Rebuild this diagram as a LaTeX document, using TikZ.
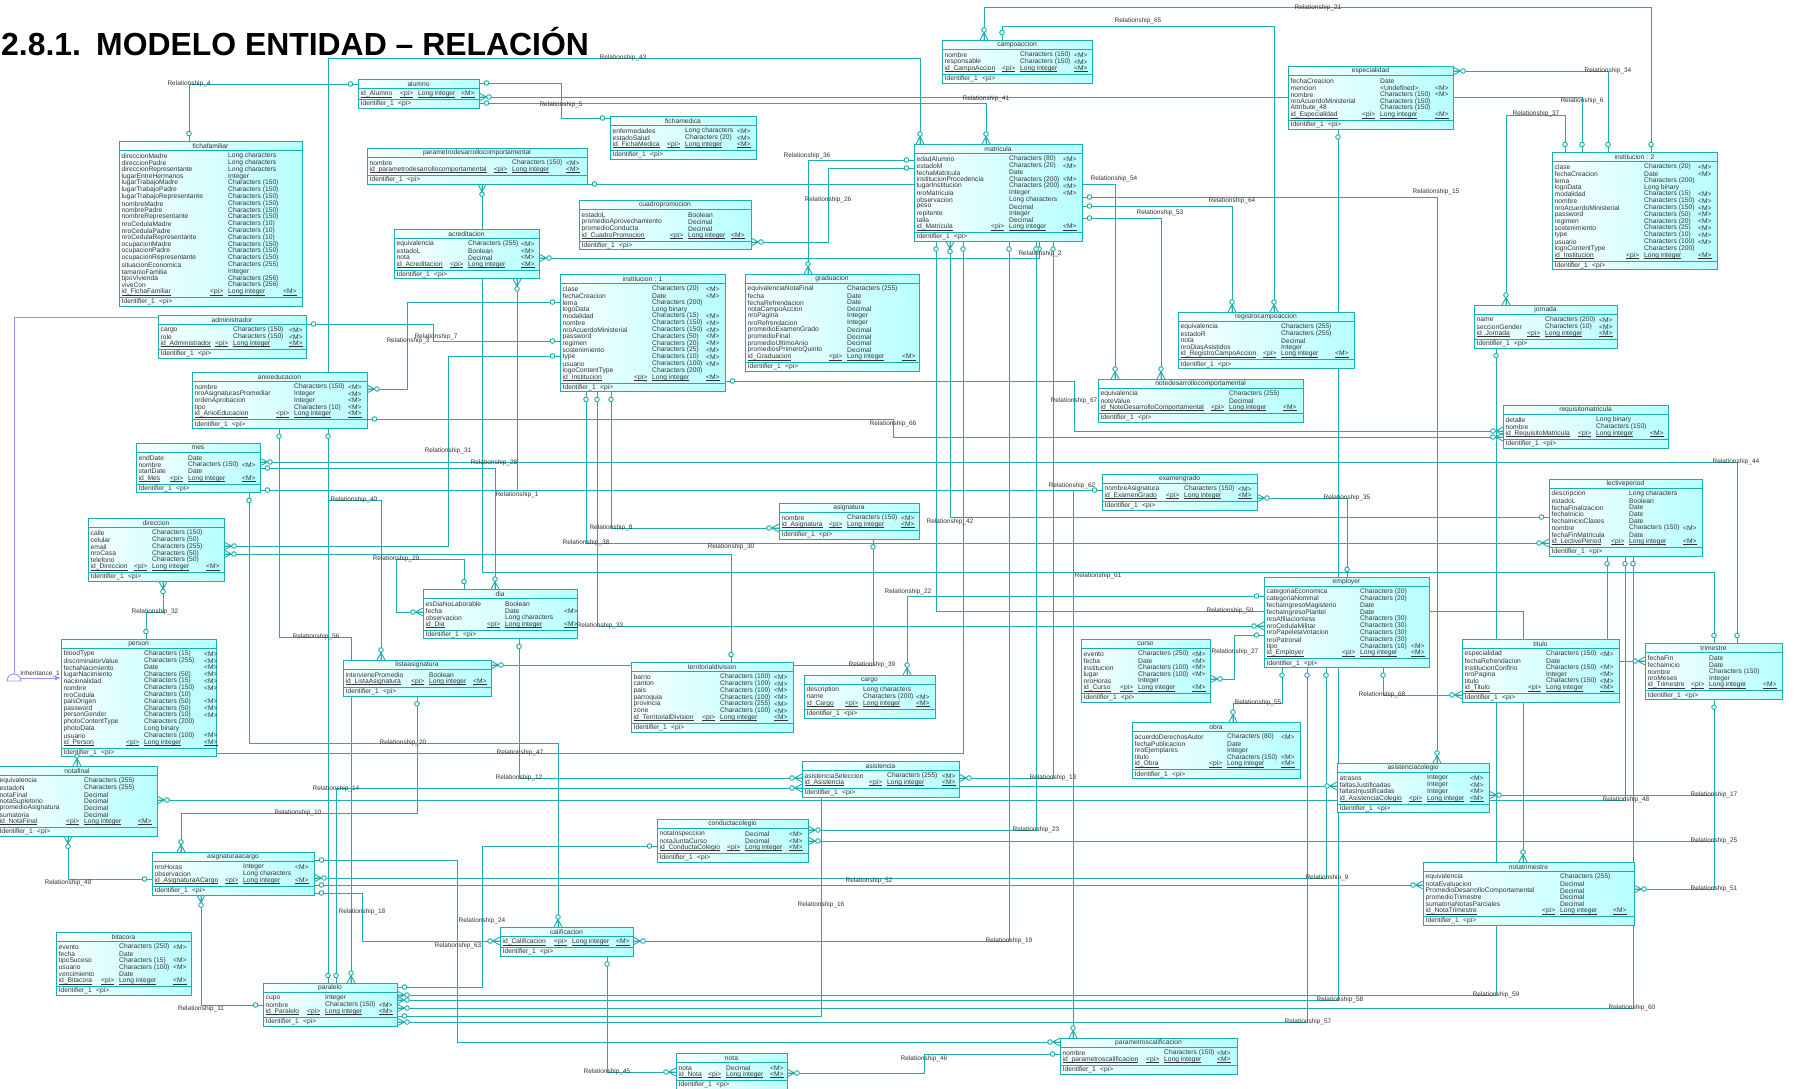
\documentclass[tikz,border=0pt]{standalone}
\usepackage{fontspec}
\setmainfont{Liberation Sans}
\usetikzlibrary{arrows.meta}
\pgfdeclarelayer{bg}
\pgfsetlayers{bg,main}
\definecolor{tl}{RGB}{26,174,174}
\definecolor{tx}{RGB}{50,50,50}
\definecolor{inhc}{RGB}{150,150,255}
\newcounter{rc}
\newcommand\ul[1]{\setbox0\hbox{#1}\rlap{\vrule height -0.9pt depth 1.35pt width \wd0}\box0}
% #1 name #2 x #3 y #4 width #5 title #6 type-col #7 M-col #8 number of rows
\newcommand\ebeg[8]{\gdef\eN{#1}\gdef\eX{#2}\gdef\eY{#3}\gdef\eW{#4}\gdef\eTx{#6}\gdef\eMx{#7}\setcounter{rc}{0}%
\pgfmathsetmacro\eB{#3+15+(#8-1)*6.8+5.5}%
\pgfmathsetmacro\eH{\eB+9-#3}%
\node[ebox,minimum width=#4 pt,minimum height=\eH pt] (#1) at (#2,#3) {};
\draw[sep] (#2,#3+9.5) -- (#2+#4,#3+9.5);
\draw[sep] (#2,\eB) -- (#2+#4,\eB);
\node[hdr] (#1-t) at (#2+#4/2,#3+4.9) {#5};
\node[txt] (#1-i) at (#2+2.5,\eB+4.6) {Identifier\_1};
\node[txt] (#1-ip) at (#2+40,\eB+4.6) {<pi>};}
\newcommand\erow[3]{\stepcounter{rc}\pgfmathsetmacro\ry{\eY+15+(\therc-1)*6.8}%
\node[txt] (\eN-\therc a) at (\eX+2.5,\ry) {#1};
\node[txt] (\eN-\therc b) at (\eX+\eTx,\ry) {#2};
\node[txt] (\eN-\therc c) at (\eX+\eMx,\ry) {#3};}
\newcommand\ekey[1]{\stepcounter{rc}\pgfmathsetmacro\ry{\eY+15+(\therc-1)*6.8}%
\node[txt] (\eN-k) at (\eX+2.5,\ry) {\ul{#1}};
\node[txt] (\eN-kp) at (\eX+\eTx-18,\ry) {\ul{<pi>}};
\node[txt] (\eN-kt) at (\eX+\eTx,\ry) {\ul{Long integer}};
\node[txt] (\eN-km) at (\eX+\eMx,\ry) {\ul{<M>}};}
\newcommand\instrows{%
\erow{clase}{Characters (20)}{<M>}%
\erow{fechaCreacion}{Date}{<M>}%
\erow{lema}{Characters (200)}{}%
\erow{logoData}{Long binary}{}%
\erow{modalidad}{Characters (15)}{<M>}%
\erow{nombre}{Characters (150)}{<M>}%
\erow{nroAcuerdoMinisterial}{Characters (150)}{<M>}%
\erow{password}{Characters (50)}{<M>}%
\erow{regimen}{Characters (20)}{<M>}%
\erow{sostenimiento}{Characters (25)}{<M>}%
\erow{type}{Characters (10)}{<M>}%
\erow{usuario}{Characters (100)}{<M>}%
\erow{logoContentType}{Characters (200)}{}%
\ekey{id\_Institucion}}
\newcommand\crN[1]{\pic[rotate=90] at (#1) {many};}
\newcommand\crS[1]{\pic[rotate=-90] at (#1) {many};}
\newcommand\crE[1]{\pic at (#1) {many};}
\newcommand\crW[1]{\pic[rotate=180] at (#1) {many};}
\newcommand\ciN[1]{\pic[rotate=90] at (#1) {one};}
\newcommand\ciS[1]{\pic[rotate=-90] at (#1) {one};}
\newcommand\ciE[1]{\pic at (#1) {one};}
\newcommand\ciW[1]{\pic[rotate=180] at (#1) {one};}
\tikzset{
  conn/.style={draw=tl,line width=0.9pt},
  ebox/.style={draw=tl,line width=1pt,left color=cyan!3,right color=cyan!28,inner sep=0pt,outer sep=0pt,anchor=north west},
  sep/.style={draw=tl,line width=0.8pt},
  txt/.style={font=\fontsize{6.7}{7}\selectfont,text=tx,inner sep=0pt,anchor=west},
  hdr/.style={font=\fontsize{6.7}{7}\selectfont,text=tx,inner sep=0pt},
  lbl/.style={font=\fontsize{6.5}{7}\selectfont,text=tx,inner sep=0pt},
  many/.pic={\draw[conn] (0,-4) -- (7.5,0) -- (0,4) (0,0) -- (7.5,0); \draw[conn,fill=white] (10,0) circle (2.3);},
  one/.pic={\draw[conn,fill=white] (7.5,0) circle (2.3);}
}
\begin{document}
\begin{tikzpicture}[x=1pt,y=-1pt]
\useasboundingbox (0,0) rectangle (1795,1088);
% ---------- title
\node[font=\fontsize{31.9}{36}\selectfont\bfseries,anchor=base west,inner sep=0pt] (ttl1) at (1,55) {2.8.1.};
\node[font=\fontsize{31.9}{36}\selectfont\bfseries,anchor=base west,inner sep=0pt] (ttl2) at (96,55) {MODELO ENTIDAD – RELACIÓN};
% ---------- entities
\ebeg{alumno}{358}{79}{121}{alumno}{60}{103}{1}
\ekey{id\_Alumno}

\ebeg{ficha}{119}{141}{183}{fichafamiliar}{109}{164}{21}
\erow{direccionMadre}{Long characters}{}
\erow{direccionPadre}{Long characters}{}
\erow{direccionRepresentante}{Long characters}{}
\erow{lugarEntreHermanos}{Integer}{}
\erow{lugarTrabajoMadre}{Characters (150)}{}
\erow{lugarTrabajoPadre}{Characters (150)}{}
\erow{lugarTrabajoRepresentante}{Characters (150)}{}
\erow{nombreMadre}{Characters (150)}{}
\erow{nombrePadre}{Characters (150)}{}
\erow{nombreRepresentante}{Characters (150)}{}
\erow{nroCedulaMadre}{Characters (10)}{}
\erow{nroCedulaPadre}{Characters (10)}{}
\erow{nroCedulaRepresentante}{Characters (10)}{}
\erow{ocupacionMadre}{Characters (150)}{}
\erow{ocupacionPadre}{Characters (150)}{}
\erow{ocupacionRepresentante}{Characters (150)}{}
\erow{situacionEconomica}{Characters (255)}{}
\erow{tamanioFamilia}{Integer}{}
\erow{tipoVivienda}{Characters (256)}{}
\erow{viveCon}{Characters (256)}{}
\ekey{id\_FichaFamiliar}

\ebeg{admin}{158}{315}{148}{administrador}{75}{131}{3}
\erow{cargo}{Characters (150)}{<M>}
\erow{role}{Characters (150)}{<M>}
\ekey{id\_Administrador}

\ebeg{parametro}{367}{148}{220}{parametrodesarrollocomportamental}{145}{199}{2}
\erow{nombre}{Characters (150)}{<M>}
\ekey{id\_parametrodesarrollocomportamental}

\ebeg{fichamedica}{610}{116}{146}{fichamedica}{75}{127}{3}
\erow{enfermedades}{Long characters}{<M>}
\erow{estadoSalud}{Characters (20)}{<M>}
\ekey{id\_FichaMedica}

\ebeg{acreditacion}{394}{229}{145}{acreditacion}{74}{127}{4}
\erow{equivalencia}{Characters (255)}{<M>}
\erow{estadoL}{Boolean}{<M>}
\erow{nota}{Decimal}{<M>}
\ekey{id\_Acreditacion}

\ebeg{cuadro}{579}{200}{172}{cuadropromocion}{109}{152}{4}
\erow{estadoL}{Boolean}{}
\erow{promedioAprovechamiento}{Decimal}{}
\erow{promedioConducta}{Decimal}{}
\ekey{id\_CuadroPromocion}

\ebeg{inst1}{560}{274}{165}{institucion : 1}{92}{146}{14}
\instrows

\ebeg{graduacion}{745}{274}{174}{graduacion}{102}{157}{11}
\erow{equivalenciaNotaFinal}{Characters (255)}{}
\erow{fecha}{Date}{}
\erow{fechaRefrendacion}{Date}{}
\erow{notaCampoAccion}{Decimal}{}
\erow{nroPagina}{Integer}{}
\erow{nroRefrendacion}{Integer}{}
\erow{promedioExamenGrado}{Decimal}{}
\erow{promedioFinal}{Decimal}{}
\erow{promedioUltimoAnio}{Decimal}{}
\erow{promediosPrimeroQuinto}{Decimal}{}
\ekey{id\_Graduacion}

\ebeg{campo}{942}{40}{150}{campoaccion}{78}{132}{3}
\erow{nombre}{Characters (150)}{<M>}
\erow{responsable}{Characters (150)}{<M>}
\ekey{id\_CampoAccion}

\ebeg{matricula}{914}{144}{168}{matricula}{95}{149}{11}
\erow{edadAlumno}{Characters (80)}{<M>}
\erow{estadoM}{Characters (20)}{<M>}
\erow{fechaMatricula}{Date}{}
\erow{institucionProcedencia}{Characters (200)}{<M>}
\erow{lugarInstitucion}{Characters (200)}{<M>}
\erow{nroMatricula}{Integer}{<M>}
\erow{observacion}{Long characters}{}
\erow{peso}{Decimal}{}
\erow{repitente}{Integer}{}
\erow{talla}{Decimal}{}
\ekey{id\_Matricula}

\ebeg{especialidad}{1288}{66}{165}{especialidad}{92}{147}{6}
\erow{fechaCreacion}{Date}{}
\erow{mencion}{<Undefined>}{<M>}
\erow{nombre}{Characters (150)}{<M>}
\erow{nroAcuerdoMinisterial}{Characters (150)}{}
\erow{Attribute\_48}{Characters (150)}{}
\ekey{id\_Especialidad}

\ebeg{inst2}{1552}{152}{165}{institucion : 2}{92}{146}{14}
\instrows

\ebeg{registro}{1178}{312}{176}{registrocampoaccion}{103}{157}{5}
\erow{equivalencia}{Characters (255)}{}
\erow{estadoR}{Characters (255)}{}
\erow{nota}{Decimal}{}
\erow{nroDiasAsistidos}{Integer}{}
\ekey{id\_RegistroCampoAccion}

\ebeg{jornada}{1474}{305}{143}{jornada}{71}{125}{3}
\erow{name}{Characters (200)}{<M>}
\erow{seccionGender}{Characters (10)}{<M>}
\ekey{id\_Jornada}

\ebeg{notedes}{1098}{379}{205}{notedesarrollocomportamental}{131}{185}{3}
\erow{equivalencia}{Characters (255)}{}
\erow{noteValue}{Decimal}{}
\ekey{id\_NoteDesarrolloComportamental}

\ebeg{requisito}{1503}{405}{165}{requisitomatricula}{93}{147}{3}
\erow{detalle}{Long binary}{}
\erow{nombre}{Characters (150)}{}
\ekey{id\_RequisitoMatricula}

\ebeg{lective}{1549}{479}{153}{lectiveperiod}{80}{134}{8}
\erow{descripcion}{Long characters}{}
\erow{estadoL}{Boolean}{}
\erow{fechaFinalizacion}{Date}{}
\erow{fechaInicio}{Date}{}
\erow{fechaInicioClases}{Date}{}
\erow{nombre}{Characters (150)}{<M>}
\erow{fechaFinMatricula}{Date}{}
\ekey{id\_LectivePeriod}

\ebeg{examengrado}{1102}{474}{155}{examengrado}{82}{136}{2}
\erow{nombreAsignatura}{Characters (150)}{<M>}
\ekey{id\_ExamenGrado}

\ebeg{anio}{192}{372}{175}{anioeducacion}{102}{156}{5}
\erow{nombre}{Characters (150)}{<M>}
\erow{nroAsignaturasPromediar}{Integer}{<M>}
\erow{ordenAprobacion}{Integer}{<M>}
\erow{tipo}{Characters (10)}{<M>}
\ekey{id\_AnioEducacion}

\ebeg{mes}{136}{443}{124}{mes}{52}{106}{4}
\erow{endDate}{Date}{}
\erow{nombre}{Characters (150)}{<M>}
\erow{startDate}{Date}{}
\ekey{id\_Mes}

\ebeg{direccion}{88}{518}{136}{direccion}{64}{118}{6}
\erow{calle}{Characters (150)}{}
\erow{celular}{Characters (50)}{}
\erow{email}{Characters (255)}{}
\erow{nroCasa}{Characters (50)}{}
\erow{telefono}{Characters (50)}{}
\ekey{id\_Direccion}

\ebeg{person}{61}{639}{155}{person}{83}{143}{14}
\erow{bloodType}{Characters (15)}{<M>}
\erow{discriminatorValue}{Characters (255)}{<M>}
\erow{fechaNacimiento}{Date}{<M>}
\erow{lugarNacimiento}{Characters (50)}{<M>}
\erow{nacionalidad}{Characters (15)}{<M>}
\erow{nombre}{Characters (150)}{<M>}
\erow{nroCedula}{Characters (10)}{}
\erow{paisOrigen}{Characters (50)}{<M>}
\erow{password}{Characters (50)}{<M>}
\erow{personGender}{Characters (10)}{<M>}
\erow{photoContentType}{Characters (200)}{}
\erow{photoData}{Long binary}{}
\erow{usuario}{Characters (100)}{<M>}
\ekey{id\_Person}

\ebeg{dia}{423}{589}{154}{dia}{82}{141}{4}
\erow{esDiaNoLaborable}{Boolean}{}
\erow{fecha}{Date}{<M>}
\erow{observacion}{Long characters}{}
\ekey{id\_Dia}

\ebeg{lista}{343}{660}{148}{listaasignatura}{86}{130}{2}
\erow{intervienePromedio}{Boolean}{}
\ekey{id\_ListaAsignatura}

\ebeg{asignatura}{779}{503}{140}{asignatura}{68}{122}{2}
\erow{nombre}{Characters (150)}{<M>}
\ekey{id\_Asignatura}

\ebeg{territorial}{631}{662}{162}{territorialdivision}{89}{143}{7}
\erow{barrio}{Characters (100)}{<M>}
\erow{canton}{Characters (100)}{<M>}
\erow{pais}{Characters (100)}{<M>}
\erow{parroquia}{Characters (100)}{<M>}
\erow{provincia}{Characters (255)}{<M>}
\erow{zone}{Characters (100)}{<M>}
\ekey{id\_TerritorialDivision}

\ebeg{cargo}{804}{675}{131}{cargo}{59}{112}{3}
\erow{description}{Long characters}{}
\erow{name}{Characters (200)}{<M>}
\ekey{id\_Cargo}

\ebeg{employer}{1264}{577}{165}{employer}{96}{147}{10}
\erow{categoriaEconomica}{Characters (20)}{}
\erow{categoriaNominal}{Characters (20)}{}
\erow{fechaIngresoMagisterio}{Date}{}
\erow{fechaIngresoPlantel}{Date}{}
\erow{nroAfiliacionIess}{Characters (30)}{}
\erow{nroCedulaMilitar}{Characters (30)}{}
\erow{nroPapeletaVotacion}{Characters (30)}{}
\erow{nroPatronal}{Characters (30)}{}
\erow{tipo}{Characters (10)}{<M>}
\ekey{id\_Employer}

\ebeg{curso}{1081}{639}{129}{curso}{57}{111}{6}
\erow{evento}{Characters (250)}{<M>}
\erow{fecha}{Date}{<M>}
\erow{institucion}{Characters (100)}{<M>}
\erow{lugar}{Characters (100)}{<M>}
\erow{nroHoras}{Integer}{}
\ekey{id\_Curso}

\ebeg{titulo}{1462}{639}{157}{titulo}{84}{138}{6}
\erow{especialidad}{Characters (150)}{<M>}
\erow{fechaRefrendacion}{Date}{}
\erow{institucionConfirio}{Characters (150)}{<M>}
\erow{nroPagina}{Integer}{<M>}
\erow{titulo}{Characters (150)}{<M>}
\ekey{id\_Titulo}

\ebeg{trimestre}{1645}{643}{137}{trimestre}{64}{118}{5}
\erow{fechaFin}{Date}{}
\erow{fechaInicio}{Date}{}
\erow{nombre}{Characters (150)}{}
\erow{nroMeses}{Integer}{}
\ekey{id\_Trimestre}

\ebeg{obra}{1132}{722}{168}{obra}{95}{149}{5}
\erow{acuerdoDerechosAutor}{Characters (80)}{<M>}
\erow{fechaPublicacion}{Date}{}
\erow{nroEjemplares}{Integer}{}
\erow{titulo}{Characters (150)}{<M>}
\ekey{id\_Obra}

\ebeg{asistencia}{802}{761}{157}{asistencia}{85}{140}{2}
\erow{asistenciaSeleccion}{Characters (255)}{<M>}
\ekey{id\_Asistencia}

\ebeg{asiscol}{1337}{763}{152}{asistenciacolegio}{90}{133}{4}
\erow{atrasos}{Integer}{<M>}
\erow{faltasJustificadas}{Integer}{<M>}
\erow{faltasInjustificadas}{Integer}{<M>}
\ekey{id\_AsistenciaColegio}

\ebeg{conducta}{657}{819}{151}{conductacolegio}{88}{132}{3}
\erow{notaInspeccion}{Decimal}{<M>}
\erow{notaJuntaCurso}{Decimal}{<M>}
\ekey{id\_ConductaColegio}

\ebeg{notafinal}{-3}{766}{160}{notafinal}{87}{141}{7}
\erow{equivalencia}{Characters (255)}{}
\erow{estadoN}{Characters (255)}{}
\erow{notaFinal}{Decimal}{}
\erow{notaSupletorio}{Decimal}{}
\erow{promedioAsignatura}{Decimal}{}
\erow{sumatoria}{Decimal}{}
\ekey{id\_NotaFinal}

\ebeg{asigacargo}{152}{852}{162}{asignaturaacargo}{91}{143}{3}
\erow{nroHoras}{Integer}{<M>}
\erow{observacion}{Long characters}{}
\ekey{id\_AsignaturaACargo}

\ebeg{bitacora}{56}{932}{135}{bitacora}{63}{117}{6}
\erow{evento}{Characters (250)}{<M>}
\erow{fecha}{Date}{}
\erow{tipoSuceso}{Characters (15)}{<M>}
\erow{usuario}{Characters (100)}{<M>}
\erow{vencimiento}{Date}{}
\ekey{id\_Bitacora}

\ebeg{paralelo}{263}{983}{134}{paralelo}{62}{116}{3}
\erow{cupo}{Integer}{}
\erow{nombre}{Characters (150)}{<M>}
\ekey{id\_Paralelo}

\ebeg{calif}{500}{927}{133}{calificacion}{72}{116}{1}
\ekey{id\_Calificacion}

\ebeg{nota}{676}{1053}{111}{nota}{50}{94}{2}
\erow{nota}{Decimal}{<M>}
\ekey{id\_Nota}

\ebeg{paramcal}{1060}{1038}{177}{parametroscalificacion}{104}{157}{2}
\erow{nombre}{Characters (150)}{<M>}
\ekey{id\_parametroscalificacion}

\ebeg{notatrim}{1423}{862}{211}{notatrimestre}{137}{190}{6}
\erow{equivalencia}{Characters (255)}{}
\erow{notaEvaluacion}{Decimal}{}
\erow{PromedioDesarrolloComportamental}{Decimal}{}
\erow{promedioTrimestre}{Decimal}{}
\erow{sumatoriaNotasParciales}{Decimal}{}
\ekey{id\_NotaTrimestre}

% ---------- connectors (behind the boxes)
\begin{pgfonlayer}{bg}
\fill[white] (0,0) rectangle (1795,1088);
\draw[conn] (189,0 |- ficha.north) -- (189,84) -- (alumno.west |- 0,84);
\draw[conn] (328,0 |- paralelo.north) -- (328,58) -- (920,58) -- (920,0 |- matricula.north);
\draw[conn] (alumno.east |- 0,83) -- (561,83) -- (561,118) -- (fichamedica.west |- 0,118);
\draw[conn] (alumno.east |- 0,97) -- (1582,97) -- (1582,0 |- inst2.north);
\draw[conn] (alumno.east |- 0,103) -- (986,103) -- (986,0 |- matricula.north);
\draw[conn] (984,0 |- campo.north) -- (984,7) -- (1651,7) -- (1651,0 |- inst2.north);
\draw[conn] (1002,0 |- campo.north) -- (1002,26) -- (1274,26) -- (1274,0 |- registro.north);
\draw[conn] (especialidad.east |- 0,71) -- (1608,71) -- (1608,0 |- inst2.north);
\draw[conn] (1506,0 |- jornada.north) -- (1506,115) -- (1565,115) -- (1565,0 |- inst2.north);
\draw[conn] (matricula.west |- 0,160) -- (808,160) -- (808,0 |- graduacion.north);
\draw[conn] (matricula.west |- 0,168) -- (828,168) -- (828,242) -- (cuadro.east |- 0,242);
\draw[conn] (parametro.east |- 0,184) -- (1115,184) -- (1115,0 |- notedes.north);
\draw[conn] (matricula.east |- 0,197) -- (1437,197) -- (1437,0 |- asiscol.north);
\draw[conn] (matricula.east |- 0,206) -- (1232,206) -- (1232,0 |- registro.north);
\draw[conn] (matricula.east |- 0,218) -- (1161,218) -- (1161,0 |- notedes.north);
\draw[conn] (acreditacion.east |- 0,258) -- (1039,258) -- (1039,0 |- matricula.south);
\draw[conn] (anio.east |- 0,389) -- (407,389) -- (407,302) -- (inst1.west |- 0,302);
\draw[conn] (admin.east |- 0,324) -- (433,324) -- (433,341) -- (inst1.west |- 0,341);
\draw[conn] (direccion.east |- 0,546) -- (448,546) -- (448,356) -- (inst1.west |- 0,356);
\draw[conn] (direccion.east |- 0,554) -- (731,554) -- (731,0 |- territorial.north);
\draw[conn] (163,0 |- direccion.south) -- (163,612) -- (146,612) -- (146,0 |- person.north);
\draw[conn] (inst1.east |- 0,381) -- (1074,381) -- (1074,431) -- (requisito.west |- 0,431);
\draw[conn] (anio.east |- 0,419) -- (893,419) -- (893,437) -- (requisito.west |- 0,437);
\draw[conn] (mes.east |- 0,462) -- (1737,462) -- (1737,0 |- trimestre.north);
\draw[conn] (mes.east |- 0,468) -- (495,468) -- (495,0 |- dia.north);
\draw[conn] (mes.east |- 0,490) -- (1073,490);
\draw[conn] (517,0 |- acreditacion.south) -- (517,490);
\draw[conn] (examengrado.west |- 0,490) -- (1073,490) -- (1073,0 |- paramcal.north);
\draw[conn] (611,0 |- inst1.south) -- (611,528) -- (asignatura.west |- 0,528);
\draw[conn] (586,0 |- inst1.south) -- (586,543) -- (lective.west |- 0,543);
\draw[conn] (597,0 |- inst1.south) -- (597,626) -- (employer.west |- 0,626);
\draw[conn] (482,0 |- parametro.south) -- (482,572) -- (1714,572) -- (1714,0 |- trimestre.north);
\draw[conn] (examengrado.east |- 0,498) -- (1347,498) -- (1347,0 |- employer.north);
\draw[conn] (950,0 |- matricula.south) -- (950,517) -- (lective.west |- 0,517);
\draw[conn] (936,0 |- matricula.south) -- (936,611) -- (employer.west |- 0,611);
\draw[conn] (963,0 |- matricula.south) -- (963,753) -- (person.east |- 0,753);
\draw[conn] (1009,0 |- matricula.south) -- (1009,941) -- (calif.east |- 0,941);
\draw[conn] (1036,0 |- matricula.south) -- (1036,830) -- (conducta.east |- 0,830);
\draw[conn] (1053,0 |- matricula.south) -- (1053,778) -- (asistencia.east |- 0,778);
\draw[conn] (employer.west |- 0,596) -- (907,596) -- (907,0 |- cargo.north);
\draw[conn] (employer.west |- 0,635) -- (1234,635) -- (1234,679) -- (curso.east |- 0,679);
\draw[conn] (employer.east |- 0,611) -- (1523,611) -- (1523,0 |- notatrim.north);
\draw[conn] (1282,0 |- employer.south) -- (1282,703) -- (1233,703) -- (1233,0 |- obra.north);
\draw[conn] (1307,0 |- employer.south) -- (1307,1022) -- (paralelo.east |- 0,1022);
\draw[conn] (1326,0 |- employer.south) -- (1326,878) -- (asigacargo.east |- 0,878);
\draw[conn] (1383,0 |- employer.south) -- (1383,695) -- (titulo.west |- 0,695);
\draw[conn] (asistencia.east |- 0,786) -- (asiscol.west |- 0,786);
\draw[conn] (1338,0 |- especialidad.south) -- (1338,1000) -- (paralelo.east |- 0,1000);
\draw[conn] (1496,0 |- jornada.south) -- (1496,995) -- (paralelo.east |- 0,995);
\draw[conn] (1633,0 |- lective.south) -- (1633,1008) -- (paralelo.east |- 0,1008);
\draw[conn] (1625,0 |- lective.south) -- (1625,800) -- (notafinal.east |- 0,800);
\draw[conn] (1607,0 |- lective.south) -- (1607,0 |- titulo.north);
\draw[conn] (titulo.east |- 0,661) -- (trimestre.west |- 0,661);
\draw[conn] (1714,0 |- trimestre.south) -- (1714,795) -- (asiscol.east |- 0,795);
\draw[conn] (1714,0 |- trimestre.south) -- (1714,841) -- (conducta.east |- 0,841);
\draw[conn] (1714,0 |- trimestre.south) -- (1714,889) -- (notatrim.east |- 0,889);
\draw[conn] (asigacargo.east |- 0,885) -- (notatrim.west |- 0,885);
\draw[conn] (asigacargo.east |- 0,860) -- (457,860) -- (457,1042) -- (paramcal.west |- 0,1042);
\draw[conn] (asigacargo.east |- 0,893) -- (362,893) -- (362,941) -- (calif.west |- 0,941);
\draw[conn] (paralelo.east |- 0,987) -- (482,987) -- (482,846) -- (conducta.west |- 0,846);
\draw[conn] (paralelo.east |- 0,1016) -- (821,1016) -- (821,0 |- asistencia.south);
\draw[conn] (607,0 |- calif.south) -- (607,1072) -- (nota.west |- 0,1072);
\draw[conn] (nota.east |- 0,1073) -- (924,1073) -- (924,1054) -- (paramcal.west |- 0,1054);
\draw[conn] (249,0 |- mes.south) -- (249,743) -- (558,743) -- (558,0 |- calif.north);
\draw[conn] (519,0 |- dia.south) -- (519,778) -- (asistencia.west |- 0,778);
\draw[conn] (336,0 |- paralelo.north) -- (336,788) -- (asistencia.west |- 0,788);
\draw[conn] (279,0 |- anio.south) -- (279,637) -- (351,637) -- (351,0 |- paralelo.north);
\draw[conn] (328,0 |- anio.south) -- (328,500) -- (381,500) -- (381,0 |- lista.north);
\draw[conn] (417,0 |- lista.south) -- (417,813) -- (181,813) -- (181,0 |- asigacargo.north);
\draw[conn] (lista.east |- 0,665) -- (873,665) -- (873,0 |- asignatura.south);
\draw[conn] (464,0 |- dia.north) -- (464,559) -- (396,559) -- (396,612) -- (dia.west |- 0,612);
\draw[conn] (68,0 |- notafinal.south) -- (68,879) -- (asigacargo.west |- 0,879);
\draw[conn] (201,0 |- asigacargo.south) -- (201,1005) -- (paralelo.west |- 0,1005);
\draw[conn] (77,0 |- notafinal.north) -- (77,0 |- person.south);
\draw[draw=inhc,line width=0.9pt] (14,674) -- (14,317) -- (admin.west |- 0,317);
\draw[draw=inhc,line width=0.9pt,-{Latex[length=6pt,width=5pt]}] (21,678) -- (person.west |- 0,678);
\end{pgfonlayer}
\draw[draw=inhc,line width=0.9pt,fill=white] (7,681) arc[start angle=180,end angle=360,radius=7] -- cycle;
% ---------- terminators
\ciN{189,0 |- ficha.north} \ciW{alumno.west |- 0,84}
\ciN{328,0 |- paralelo.north} \crN{920,0 |- matricula.north}
\ciE{alumno.east |- 0,83} \ciW{fichamedica.west |- 0,118}
\crE{alumno.east |- 0,97} \ciN{1582,0 |- inst2.north}
\ciE{alumno.east |- 0,103} \crN{986,0 |- matricula.north}
\crN{984,0 |- campo.north} \ciN{1651,0 |- inst2.north}
\ciN{1002,0 |- campo.north} \crN{1274,0 |- registro.north}
\crE{especialidad.east |- 0,71} \ciN{1608,0 |- inst2.north}
\crN{1506,0 |- jornada.north} \ciN{1565,0 |- inst2.north}
\ciW{matricula.west |- 0,160} \crN{808,0 |- graduacion.north}
\ciW{matricula.west |- 0,168} \crE{cuadro.east |- 0,242}
\ciE{parametro.east |- 0,184} \crN{1115,0 |- notedes.north}
\ciE{matricula.east |- 0,197} \crN{1437,0 |- asiscol.north}
\ciE{matricula.east |- 0,206} \crN{1232,0 |- registro.north}
\ciE{matricula.east |- 0,218} \crN{1161,0 |- notedes.north}
\crE{acreditacion.east |- 0,258} \ciS{1039,0 |- matricula.south}
\crE{anio.east |- 0,389} \ciW{inst1.west |- 0,302}
\ciE{admin.east |- 0,324} \ciW{inst1.west |- 0,341}
\crE{direccion.east |- 0,546} \ciW{inst1.west |- 0,356}
\crE{direccion.east |- 0,554} \ciN{731,0 |- territorial.north}
\crS{163,0 |- direccion.south} \ciN{146,0 |- person.north}
\ciE{inst1.east |- 0,381} \crW{requisito.west |- 0,431}
\ciE{anio.east |- 0,419} \crW{requisito.west |- 0,437}
\crE{mes.east |- 0,462} \ciN{1737,0 |- trimestre.north}
\ciE{mes.east |- 0,468} \crN{495,0 |- dia.north}
\ciE{mes.east |- 0,490} \crS{517,0 |- acreditacion.south}
\ciW{examengrado.west |- 0,490} \crN{1073,0 |- paramcal.north}
\ciS{611,0 |- inst1.south} \crW{asignatura.west |- 0,528}
\ciS{586,0 |- inst1.south} \crW{lective.west |- 0,543}
\ciS{597,0 |- inst1.south} \crW{employer.west |- 0,626}
\crS{482,0 |- parametro.south} \ciN{1714,0 |- trimestre.north}
\crE{examengrado.east |- 0,498} \ciN{1347,0 |- employer.north}
\crS{950,0 |- matricula.south} \ciW{lective.west |- 0,517}
\ciS{936,0 |- matricula.south}
\ciS{963,0 |- matricula.south}
\ciS{1009,0 |- matricula.south} \crE{calif.east |- 0,941}
\ciS{1036,0 |- matricula.south} \crE{conducta.east |- 0,830}
\ciS{1053,0 |- matricula.south} \crE{asistencia.east |- 0,778}
\ciW{employer.west |- 0,596} \crN{907,0 |- cargo.north}
\ciW{employer.west |- 0,635} \crE{curso.east |- 0,679}
\crN{1523,0 |- notatrim.north}
\ciS{1282,0 |- employer.south} \crN{1233,0 |- obra.north}
\ciS{1307,0 |- employer.south} \crE{paralelo.east |- 0,1022}
\ciS{1326,0 |- employer.south} \crE{asigacargo.east |- 0,878}
\ciS{1383,0 |- employer.south} \crW{titulo.west |- 0,695}
\crW{asiscol.west |- 0,786}
\ciS{1338,0 |- especialidad.south} \crE{paralelo.east |- 0,1000}
\ciS{1496,0 |- jornada.south} \crE{paralelo.east |- 0,995}
\ciS{1633,0 |- lective.south} \crE{paralelo.east |- 0,1008}
\ciS{1625,0 |- lective.south} \crE{notafinal.east |- 0,800}
\ciS{1607,0 |- lective.south}
\crW{trimestre.west |- 0,661}
\ciS{1714,0 |- trimestre.south} \crE{asiscol.east |- 0,795}
\crE{conducta.east |- 0,841}
\crE{notatrim.east |- 0,889}
\ciE{asigacargo.east |- 0,885} \crW{notatrim.west |- 0,885}
\ciE{asigacargo.east |- 0,860} \crW{paramcal.west |- 0,1042}
\ciE{asigacargo.east |- 0,893} \crW{calif.west |- 0,941}
\ciE{paralelo.east |- 0,987} \ciW{conducta.west |- 0,846}
\ciE{paralelo.east |- 0,1016}
\ciS{607,0 |- calif.south} \crW{nota.west |- 0,1072}
\crE{nota.east |- 0,1073} \ciW{paramcal.west |- 0,1054}
\ciS{249,0 |- mes.south} \crN{558,0 |- calif.north}
\ciS{519,0 |- dia.south} \crW{asistencia.west |- 0,778}
\ciN{336,0 |- paralelo.north} \crW{asistencia.west |- 0,788}
\ciS{279,0 |- anio.south} \crN{351,0 |- paralelo.north}
\ciS{328,0 |- anio.south} \crN{381,0 |- lista.north}
\ciS{417,0 |- lista.south} \crN{181,0 |- asigacargo.north}
\crE{lista.east |- 0,665} \ciS{873,0 |- asignatura.south}
\ciN{464,0 |- dia.north} \crW{dia.west |- 0,612}
\crS{68,0 |- notafinal.south} \ciW{asigacargo.west |- 0,879}
\crS{201,0 |- asigacargo.south} \ciW{paralelo.west |- 0,1005}
\crN{77,0 |- notafinal.north}
% ---------- labels
\node[lbl] (inh) at (40,674) {Inheritance\_1};
\foreach \n/\x/\y in {4/189/84, 43/623/58, 5/561/105, 65/1138/21, 21/1318/8, 41/986/99, 34/1608/71, 6/1582/101, 37/1536/114, 36/807/156, 26/828/200, 54/1114/179, 64/1232/201, 53/1160/213, 15/1436/192, 2/1040/254, 3/408/341, 7/436/337, 67/1074/401, 66/893/424, 31/448/451, 28/494/463, 1/517/495, 40/354/500, 62/1072/486, 35/1347/498, 44/1736/462, 42/950/522, 8/611/528, 38/586/543, 30/731/547, 29/396/559, 61/1098/576, 22/908/592, 33/600/626, 50/1230/611, 32/155/612, 56/316/637, 27/1235/652, 39/872/665, 68/1382/695, 55/1258/703, 20/403/743, 47/520/753, 12/519/778, 13/1053/778, 14/336/789, 10/298/813, 48/1626/800, 17/1714/795, 23/1036/830, 25/1714/841, 49/68/883, 52/869/881, 9/1327/878, 51/1714/889, 16/821/905, 18/362/912, 24/482/921, 63/458/946, 19/1009/941, 11/201/1009, 58/1340/1000, 59/1496/995, 60/1632/1008, 57/1308/1022, 45/607/1072, 46/924/1059}
  \node[lbl] (r\n) at (\x,\y) {Relationship\_\n};
\end{tikzpicture}
\end{document}
